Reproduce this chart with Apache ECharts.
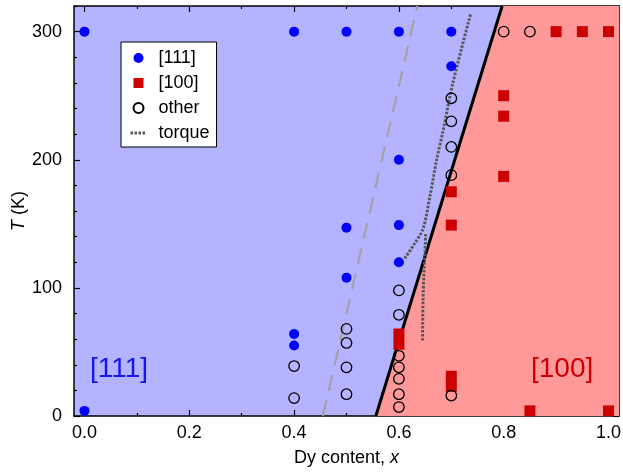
<!DOCTYPE html>
<html>
<head>
<meta charset="utf-8">
<script src="https://cdn.jsdelivr.net/npm/echarts@6/dist/echarts.min.js"></script>
<style>
html, body { margin: 0; padding: 0; background: #fff; }
#chart { width: 623px; height: 472px; }
</style>
</head>
<body>
<div id="chart"></div>
<script>
// ticks
const xMajor = [0, 0.2, 0.4, 0.6, 0.8, 1.0];
const xMinor = [0.1, 0.3, 0.5, 0.7, 0.9];
const yMajor = [0, 100, 200, 300];
const yMinor = [20, 40, 60, 80, 120, 140, 160, 180, 220, 240, 260, 280, 320];

// [111] easy axis points
const easy111X = [0.0, 0.0, 0.4, 0.4, 0.4, 0.5, 0.5, 0.5, 0.6, 0.6, 0.6, 0.6, 0.7, 0.7];
const easy111T = [300, 4, 300, 64, 55, 300, 147, 108, 300, 200, 149, 120, 300, 273];

// [100] easy axis points
const easy100X = [0.6, 0.6, 0.7, 0.7, 0.7, 0.7, 0.8, 0.8, 0.8, 0.85, 0.9, 0.95, 1.0, 1.0];
const easy100T = [64, 56, 175, 149, 31, 23, 250, 234, 187, 4, 300, 300, 300, 4];

// other (canted) points
const otherX = [0.4, 0.4, 0.5, 0.5, 0.5, 0.5, 0.6, 0.6, 0.6, 0.6, 0.6, 0.6, 0.6, 0.7, 0.7, 0.7, 0.7, 0.7, 0.8, 0.85];
const otherT = [39, 14, 68, 57, 38, 17, 98, 79, 47, 38, 29, 17, 7, 248, 230, 210, 188, 16, 300, 300];

// phase boundary and guide lines
const boundX = [0.556, 0.797];
const boundT = [0, 320];
const dashX = [0.455, 0.635];
const dashT = [0, 320];
const regionX = [0.556, 0.797, 1.02];
const regionT = [0, 320, 320];

// torque data
const torqueX = [0.611, 0.629, 0.646, 0.659, 0.672, 0.684, 0.703, 0.737];
const torqueT = [123, 134, 146, 171, 200, 222, 260, 314];
const torque2X = [0.645, 0.646, 0.648, 0.650, 0.651];
const torque2T = [59, 90, 114, 129, 142];

const FONT = '"Liberation Sans", Arial, Helvetica, sans-serif';
const TORQUE_COL = '#585858';

function zip(xs, ys) {
  return xs.map((x, i) => [x, ys[i]]);
}

const chart = echarts.init(document.getElementById('chart'));

const gridPos = { left: 74, right: 4, top: 6, bottom: 56, outerBoundsMode: 'none' };
const axisLine = { show: true, onZero: false, lineStyle: { color: '#000', width: 1.5 } };
const tickStyle = { color: '#000', width: 1.2 };

function xAx(grid, pos, ticks, len, main) {
  return {
    type: 'value', gridIndex: grid, position: pos, min: -0.02, max: 1.02,
    axisLine: main ? axisLine : { show: false, onZero: false },
    axisTick: { show: true, inside: true, length: len, customValues: ticks, lineStyle: tickStyle },
    axisLabel: { show: false },
    splitLine: { show: false }
  };
}
function yAx(grid, pos, ticks, len, main) {
  return {
    type: 'value', gridIndex: grid, position: pos, min: 0, max: 320,
    axisLine: main ? axisLine : { show: false, onZero: false },
    axisTick: { show: true, inside: true, length: len, customValues: ticks, lineStyle: tickStyle },
    axisLabel: { show: false },
    splitLine: { show: false }
  };
}

const xBottom = xAx(0, 'bottom', xMajor, 6, true);
xBottom.axisLabel = {
  show: true, customValues: xMajor, margin: 8, color: '#000', fontSize: 18, fontFamily: FONT,
  formatter: (v) => v.toFixed(1)
};
xBottom.name = 'Dy content, {i|x}';
xBottom.nameLocation = 'middle';
xBottom.nameGap = 33;
xBottom.nameMoveOverlap = false;
xBottom.nameTextStyle = {
  color: '#000', fontSize: 18, fontFamily: FONT,
  rich: { i: { fontStyle: 'italic', fontSize: 18, fontFamily: FONT, color: '#000' } }
};

const yLeft = yAx(0, 'left', yMajor, 6, true);
yLeft.axisLabel = {
  show: true, customValues: yMajor, margin: 12, color: '#000', fontSize: 18, fontFamily: FONT
};
yLeft.name = '{i|T} (K)';
yLeft.nameLocation = 'middle';
yLeft.nameGap = 46;
yLeft.nameMoveOverlap = false;
yLeft.nameTextStyle = {
  color: '#000', fontSize: 18, fontFamily: FONT,
  rich: { i: { fontStyle: 'italic', fontSize: 18, fontFamily: FONT, color: '#000' } }
};

const torqueLine = { color: TORQUE_COL, width: 3, type: [2.5, 1.5] };
const clear = 'rgba(0,0,0,0)';

chart.setOption({
  animation: false,
  grid: [
    Object.assign({ show: true, backgroundColor: '#b3b3ff', borderWidth: 0 }, gridPos),
    Object.assign({ show: false }, gridPos)
  ],
  xAxis: [
    xBottom,
    xAx(0, 'top', xMajor, 6, true),
    xAx(1, 'bottom', xMinor, 3, false),
    xAx(1, 'top', xMinor, 3, false)
  ],
  yAxis: [
    yLeft,
    yAx(0, 'right', yMajor, 6, true),
    yAx(1, 'left', yMinor, 3, false),
    yAx(1, 'right', yMinor, 3, false)
  ],
  legend: {
    orient: 'vertical', left: 121, top: 42,
    backgroundColor: '#fff', borderColor: '#000', borderWidth: 1, borderRadius: 0,
    padding: [7, 7, 5, 8],
    itemWidth: 16, itemHeight: 10, itemGap: 7,
    textStyle: { color: '#000', fontSize: 18, fontFamily: FONT, padding: [0, 0, 0, 7] },
    data: [
      { name: '[111]', icon: 'circle' },
      { name: '[100]', icon: 'path://M0 0H10V10H0Z' },
      { name: 'other', icon: 'circle' },
      { name: 'torque', itemStyle: { color: clear, borderColor: clear, borderWidth: 0 }, lineStyle: torqueLine }
    ]
  },
  graphic: [
    { type: 'text', left: 90, top: 355, z: 100, style: { text: '[111]', fill: '#1515ee', fontSize: 28, fontFamily: FONT } },
    { type: 'text', left: 531, top: 355, z: 100, style: { text: '[100]', fill: '#cc0000', fontSize: 28, fontFamily: FONT } }
  ],
  series: [
    {
      name: 'region', type: 'line', data: zip(regionX, regionT), symbol: 'none', silent: true,
      lineStyle: { width: 0 }, areaStyle: { color: '#ff9999', opacity: 1 }, z: 1
    },
    {
      name: 'dashed', type: 'line', data: zip(dashX, dashT), symbol: 'none', silent: true,
      lineStyle: { color: '#a0a0a0', width: 2, type: [16, 10] }, z: 2
    },
    {
      name: 'boundary', type: 'line', data: zip(boundX, boundT), symbol: 'none', silent: true,
      lineStyle: { color: '#000', width: 3 }, z: 3
    },
    {
      name: 'torque', type: 'line', data: zip(torqueX, torqueT), symbol: 'none', smooth: 0.3,
      itemStyle: { color: TORQUE_COL }, lineStyle: torqueLine, z: 4
    },
    {
      name: 'torque', type: 'line', data: zip(torque2X, torque2T), symbol: 'none', smooth: 0.3,
      itemStyle: { color: TORQUE_COL }, lineStyle: torqueLine, z: 4
    },
    {
      name: '[111]', type: 'scatter', data: zip(easy111X, easy111T), symbol: 'circle', symbolSize: 10,
      itemStyle: { color: '#0000ff', opacity: 1 }, z: 6
    },
    {
      name: '[100]', type: 'scatter', data: zip(easy100X, easy100T), symbol: 'rect', symbolSize: 11,
      itemStyle: { color: '#cc0000', opacity: 1 }, z: 6
    },
    {
      name: 'other', type: 'scatter', data: zip(otherX, otherT), symbol: 'circle', symbolSize: 10.5,
      itemStyle: { color: clear, borderColor: '#000', borderWidth: 1.3, opacity: 1 }, z: 7
    }
  ]
});
</script>
</body>
</html>
